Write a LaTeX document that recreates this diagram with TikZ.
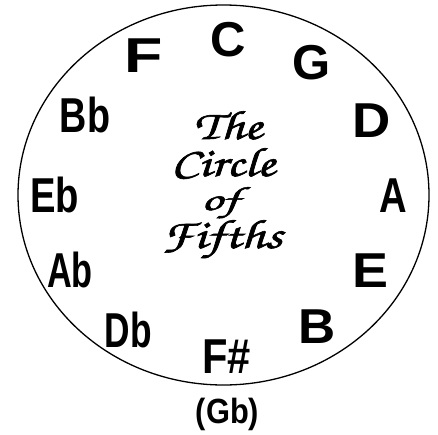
\documentclass[tikz,border=0pt]{standalone}
\usepackage{fontspec}
\usepackage{graphicx}
\newfontfamily\keyfont{Liberation Sans}[BoldFont={* Bold}]
\newcommand\heavytxt[1]{\special{pdf:literal direct 2 Tr 0.6 w}#1\special{pdf:literal direct 0 Tr}}
\begin{document}
\begin{tikzpicture}[x=1pt,y=-1pt,
  keylab/.style={anchor=base,inner sep=0pt,font=\keyfont\bfseries\fontsize{49}{49}\selectfont},
  altlab/.style={anchor=base,inner sep=0pt,font=\keyfont\bfseries\fontsize{35}{35}\selectfont},
  titlab/.style={anchor=base,inner sep=0pt,text height=0.45em,text depth=0pt,font=\fontencoding{OT1}\fontfamily{pzc}\fontseries{mb}\fontshape{it}\fontsize{41}{41}\selectfont}]
\useasboundingbox (0,0) rectangle (438,434);
\fill[white] (0,0) rectangle (438,434);
\draw[line width=1.3pt] (223.5,195) ellipse [x radius=205.5pt, y radius=190pt];
% keys
\node[keylab] (kC)  at (228,56)    {\scalebox{1.0}[1]{C}};
\node[keylab] (kG)  at (311.5,79)  {\scalebox{1.0}[1]{G}};
\node[keylab] (kD)  at (371.5,137) {\scalebox{1.08}[1]{D}};
\node[keylab] (kA)  at (393.5,212) {\scalebox{0.78}[1]{A}};
\node[keylab] (kE)  at (370,287)   {\scalebox{1.1}[1]{E}};
\node[keylab] (kB)  at (317.5,343) {\scalebox{1.05}[1]{B}};
\node[keylab] (kFs) at (226.5,373) {\scalebox{0.85}[1]{F\#}};
\node[keylab] (kDb) at (128.5,347) {\scalebox{0.72}[1]{Db}};
\node[keylab] (kAb) at (70,287)    {\scalebox{0.7}[1]{Ab}};
\node[keylab] (kEb) at (54.5,212)  {\scalebox{0.78}[1]{Eb}};
\node[keylab] (kBb) at (85,132)    {\scalebox{0.77}[1]{Bb}};
\node[keylab] (kF)  at (144,72)    {\scalebox{1.28}[1]{F}};
\node[altlab] (kGb) at (227.5,423) {\scalebox{0.88}[1]{(Gb)}};
% title
\node[titlab] (t1) at (228,139) {\heavytxt{\scalebox{1.28}[1]{The}}};
\node[titlab] (t2) at (223,176) {\heavytxt{\scalebox{1.28}[1]{Circle}}};
\node[titlab] (t3) at (220,210) {\heavytxt{\scalebox{1.28}[0.82]{of}}};
\node[titlab] (t4) at (222,248) {\heavytxt{\scalebox{1.32}[1]{Fifths}}};
\end{tikzpicture}
\end{document}
